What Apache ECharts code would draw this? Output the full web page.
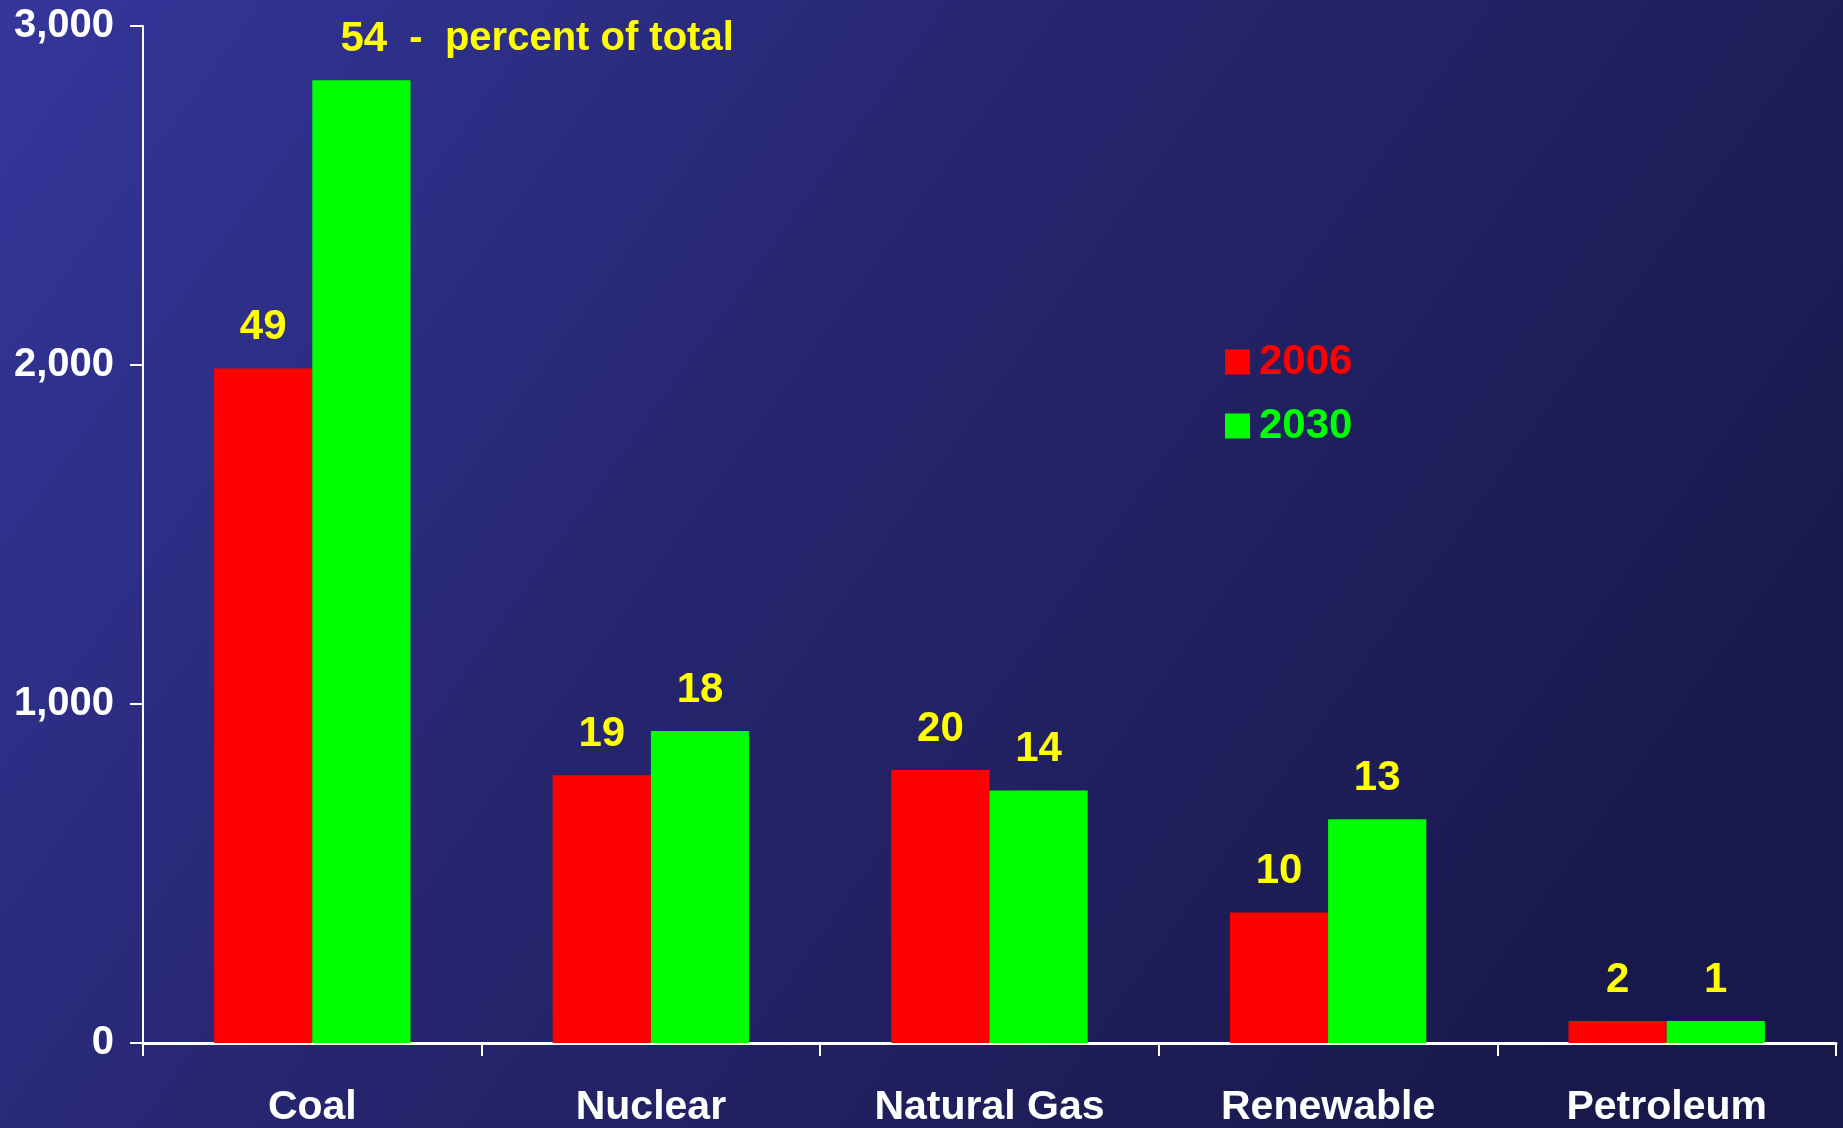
<!DOCTYPE html>
<html>
<head>
<meta charset="utf-8">
<script src="https://cdn.jsdelivr.net/npm/echarts@6/dist/echarts.min.js"></script>
<style>
html,body{margin:0;padding:0;width:100%;height:100%;overflow:hidden;}
#chart{width:1843px;height:1128px;}
</style>
</head>
<body>
<div id="chart"></div>
<script>
const categories = ['Coal', 'Nuclear', 'Natural Gas', 'Renewable', 'Petroleum'];
const values2006 = [1990, 790, 805, 385, 65];
const values2030 = [2840, 920, 745, 660, 65];
const pct2006 = [49, 19, 20, 10, 2];
const pct2030 = [54, 18, 14, 13, 1];
const yTicks = [0, 1000, 2000, 3000];
const noteText = 'percent of total';

const FONT = 'Liberation Sans, Arial, sans-serif';

const chart = echarts.init(document.getElementById('chart'));

function buildData(values, pcts, isSecond) {
  return values.map((v, i) => {
    const item = { value: v };
    if (isSecond && i === 0) {
      item.label = {
        align: 'left',
        offset: [-21, 0],
        formatter: '{a|' + pcts[i] + '}{b|  -  ' + noteText + '}',
        rich: {
          a: { fontSize: 42, fontWeight: 'bold', fontFamily: FONT, color: '#ffff00' },
          b: { fontSize: 40, fontWeight: 'bold', fontFamily: FONT, color: '#ffff00' }
        }
      };
    }
    return item;
  });
}

const labelBase = {
  show: true,
  position: 'top',
  distance: 20,
  color: '#ffff00',
  fontFamily: FONT,
  fontWeight: 'bold',
  fontSize: 42
};

chart.setOption({
  backgroundColor: {
    type: 'linear', x: 0, y: 0, x2: 0.85, y2: 1,
    colorStops: [
      { offset: 0, color: '#34369b' },
      { offset: 0.45, color: '#262670' },
      { offset: 1, color: '#19184a' }
    ]
  },
  animation: false,
  grid: { left: 143, right: 7, top: 26, bottom: 85 },
  legend: {
    orient: 'vertical',
    left: 1220,
    top: 336,
    itemWidth: 25,
    itemHeight: 25,
    itemGap: 22,
    icon: 'rect',
    textStyle: { fontFamily: FONT, fontWeight: 'bold', fontSize: 42, padding: [0, 0, 0, 4] },
    data: [
      { name: '2006', textStyle: { color: '#ff0000' } },
      { name: '2030', textStyle: { color: '#00ff00' } }
    ]
  },
  xAxis: {
    type: 'category',
    data: categories,
    axisLine: { lineStyle: { color: '#ffffff', width: 3 } },
    axisTick: { show: true, length: 13, lineStyle: { color: '#ffffff', width: 2 } },
    axisLabel: {
      color: '#ffffff', fontFamily: FONT, fontWeight: 'bold', fontSize: 41, margin: 44
    }
  },
  yAxis: {
    type: 'value',
    min: 0, max: 3000, interval: 1000,
    splitLine: { show: false },
    axisLine: { show: true, lineStyle: { color: '#ffffff', width: 2 } },
    axisTick: { show: true, length: 13, lineStyle: { color: '#ffffff', width: 2 } },
    axisLabel: {
      color: '#ffffff', fontFamily: FONT, fontWeight: 'bold', fontSize: 40, margin: 29,
      formatter: v => yTicks.includes(v) ? v.toLocaleString('en-US') : ''
    }
  },
  series: [
    {
      name: '2006', type: 'bar',
      data: buildData(values2006, pct2006, false),
      itemStyle: { color: '#ff0000' },
      barGap: '0%', barCategoryGap: '42%',
      label: Object.assign({}, labelBase, { formatter: p => pct2006[p.dataIndex] })
    },
    {
      name: '2030', type: 'bar',
      data: buildData(values2030, pct2030, true),
      itemStyle: { color: '#00ff00' },
      barGap: '0%', barCategoryGap: '42%',
      label: Object.assign({}, labelBase, { formatter: p => pct2030[p.dataIndex] })
    }
  ]
});
</script>
</body>
</html>
